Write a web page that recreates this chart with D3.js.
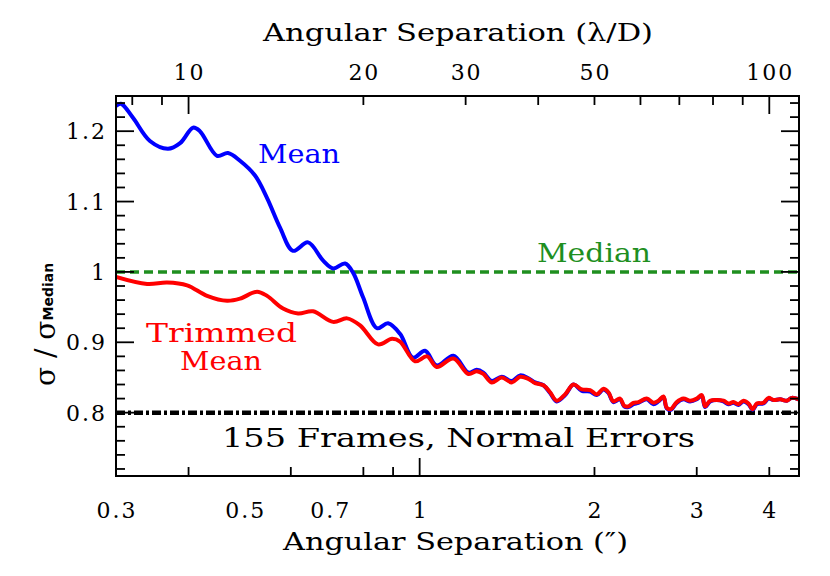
<!DOCTYPE html>
<html><head><meta charset="utf-8">
<script src="https://cdn.jsdelivr.net/npm/d3@7"></script>
<style>body{margin:0;background:#fff}svg{display:block}</style>
</head><body>
<svg id="c" width="830" height="576"></svg>
<script>
// ---- data ----
const meanSep = [0.300,0.306,0.3209,0.3432,0.3687,0.3868,0.4072,0.4184,0.4478,0.4677,0.4905,0.5206,0.5461,0.5749,0.6053,0.6424,0.6821,0.7094,0.7439,0.7679,0.7990,0.8445,0.8823,0.9252,0.9741,1.0216,1.0700,1.1432,1.2133,1.2541,1.2873,1.3306,1.3846,1.4406,1.4891,1.5391,1.5804,1.6335,1.6773,1.7219,1.7802,1.8400,1.9018,1.9657,2.0183,2.0723,2.1135,2.1559,2.2137,2.2491,2.2880,2.3338,2.3806,2.4606,2.5265,2.5772,2.6288,2.6638,2.7064,2.7715,2.8457,2.9220,3.0003,3.0604,3.1011,3.1634,3.2482,3.3352,3.4020,3.4702,3.5397,3.6106,3.6830,3.7468,3.8068,3.9087,3.9870,4.0669,4.1759,4.2877,4.3736,4.4909];
const meanVal = [1.236,1.239,1.219,1.186,1.175,1.183,1.205,1.200,1.165,1.169,1.158,1.137,1.105,1.063,1.030,1.042,1.016,1.005,1.012,0.999,0.964,0.920,0.927,0.912,0.878,0.888,0.867,0.881,0.857,0.861,0.857,0.845,0.851,0.845,0.853,0.849,0.843,0.839,0.828,0.816,0.825,0.840,0.831,0.830,0.825,0.833,0.828,0.815,0.819,0.809,0.808,0.812,0.814,0.819,0.812,0.816,0.822,0.806,0.804,0.814,0.819,0.816,0.819,0.824,0.808,0.816,0.818,0.816,0.812,0.814,0.811,0.816,0.812,0.804,0.812,0.813,0.820,0.818,0.819,0.817,0.821,0.819];
const trimSep = [0.300,0.3394,0.3674,0.3977,0.4305,0.4660,0.4905,0.5248,0.5461,0.5818,0.6176,0.6553,0.7094,0.7499,0.7897,0.8480,0.8963,0.9253,0.9819,1.0300,1.0700,1.1432,1.2133,1.2541,1.2873,1.3306,1.3846,1.4406,1.4891,1.5391,1.5804,1.6335,1.6773,1.7219,1.7802,1.8400,1.9018,1.9657,2.0183,2.0723,2.1135,2.1559,2.2137,2.2491,2.2880,2.3338,2.3806,2.4606,2.5265,2.5772,2.6288,2.6638,2.7064,2.7715,2.8457,2.9220,3.0003,3.0604,3.1011,3.1634,3.2482,3.3352,3.4020,3.4702,3.5397,3.6106,3.6830,3.7468,3.8068,3.9087,3.9870,4.0669,4.1759,4.2877,4.3736,4.4909];
const trimVal = [0.993,0.983,0.985,0.981,0.966,0.959,0.962,0.972,0.966,0.948,0.941,0.944,0.929,0.934,0.924,0.897,0.905,0.901,0.873,0.880,0.865,0.877,0.855,0.859,0.855,0.843,0.850,0.843,0.851,0.848,0.842,0.839,0.829,0.817,0.826,0.840,0.833,0.832,0.826,0.834,0.829,0.816,0.820,0.810,0.809,0.814,0.815,0.820,0.814,0.817,0.823,0.807,0.805,0.815,0.820,0.817,0.820,0.825,0.809,0.817,0.818,0.817,0.813,0.815,0.812,0.817,0.813,0.805,0.813,0.814,0.821,0.818,0.819,0.817,0.821,0.819];
const medianLevel = 1.0;
const normalLevel = 0.8;
const xTickLabels = [0.3,0.5,0.7,1,2,3,4];
const xMinorTicks = [0.4,0.6,0.8,0.9,2,3,4];
const xMajorTicks = [1];
const topTickLabels = [10,20,30,50,100];
const topMinorTicks = [8,9,20,30,40,50,60,70,80,90];
const topMajorTicks = [10,100];
const lambdaPerArcsec = 25;
const yTickLabels = [0.8,0.9,1.0,1.1,1.2];
const labels = {top:"Angular Separation (λ/D)", bottom:"Angular Separation (″)", note:"155 Frames, Normal Errors"};

// ---- layout ----
const L=116, R=799, T=96, B=476;
const svg = d3.select("#c");
const x = d3.scaleLog().domain([0.3,4.5]).range([L,R]);
const xt = d3.scaleLog().domain([0.3*lambdaPerArcsec,4.5*lambdaPerArcsec]).range([L,R]);
const y = d3.scaleLinear().domain([0.71,1.25]).range([B,T]);
const FONT = "'DejaVu Serif', serif";

// reference lines
svg.append("line").attr("x1",L).attr("x2",R).attr("y1",y(medianLevel)).attr("y2",y(medianLevel))
  .attr("stroke","#1f8f1f").attr("stroke-width",3.5).attr("stroke-dasharray","9,5");
svg.append("line").attr("x1",L).attr("x2",R).attr("y1",y(normalLevel)).attr("y2",y(normalLevel))
  .attr("stroke","#000").attr("stroke-width",4.5).attr("stroke-dasharray","9,3,3,3");

const line = d3.line().x(d=>x(d[0])).y(d=>y(d[1])).curve(d3.curveCatmullRom.alpha(0.5));
svg.append("clipPath").attr("id","pc").append("rect").attr("x",L).attr("y",T).attr("width",R-L).attr("height",B-T);
svg.append("path").datum(meanSep.map((s,i)=>[s,meanVal[i]])).attr("d",line)
  .attr("fill","none").attr("stroke","#0000ff").attr("stroke-width",4).attr("stroke-linejoin","round").attr("clip-path","url(#pc)");
svg.append("path").datum(trimSep.map((s,i)=>[s,trimVal[i]])).attr("d",line)
  .attr("fill","none").attr("stroke","#ff0000").attr("stroke-width",4).attr("stroke-linejoin","round").attr("clip-path","url(#pc)");

// frame
svg.append("rect").attr("x",L).attr("y",T).attr("width",R-L).attr("height",B-T)
  .attr("fill","none").attr("stroke","#000").attr("stroke-width",2);

const tk = svg.append("g").attr("stroke","#000").attr("stroke-width",1.8);
const MAJ=18, MIN=9;
xMinorTicks.forEach(v=>tk.append("line").attr("x1",x(v)).attr("x2",x(v)).attr("y1",B).attr("y2",B-MIN));
xMajorTicks.forEach(v=>tk.append("line").attr("x1",x(v)).attr("x2",x(v)).attr("y1",B).attr("y2",B-MAJ));
topMinorTicks.forEach(v=>tk.append("line").attr("x1",xt(v)).attr("x2",xt(v)).attr("y1",T).attr("y2",T+MIN));
topMajorTicks.forEach(v=>tk.append("line").attr("x1",xt(v)).attr("x2",xt(v)).attr("y1",T).attr("y2",T+MAJ));
d3.range(0.72,1.25,0.02).forEach(v=>{
  const major = Math.abs(Math.round(v*10)-v*10)<1e-6;
  const len = major?MAJ:MIN;
  tk.append("line").attr("x1",L).attr("x2",L+len).attr("y1",y(v)).attr("y2",y(v));
  tk.append("line").attr("x1",R).attr("x2",R-len).attr("y1",y(v)).attr("y2",y(v));
});

// tick labels
const fmtY = d=> d===1?"1":d3.format(".1f")(d);
const TS = 22, LS = 2;
svg.selectAll(".xl").data(xTickLabels).join("text").attr("x",d=>x(d)+LS/2).attr("y",518)
  .attr("text-anchor","middle").attr("font-family",FONT).attr("font-size",TS).attr("letter-spacing",LS).text(d=>String(d));
svg.selectAll(".tl").data(topTickLabels).join("text").attr("x",d=>xt(d)+LS/2).attr("y",80)
  .attr("text-anchor","middle").attr("font-family",FONT).attr("font-size",TS).attr("letter-spacing",LS).text(d=>String(d));
svg.selectAll(".yl").data(yTickLabels).join("text").attr("x",107).attr("y",d=>y(d)+8)
  .attr("text-anchor","end").attr("font-family",FONT).attr("font-size",TS).attr("letter-spacing",LS).text(fmtY);

// titles
svg.append("text").attr("x",263).attr("y",41).attr("font-family",FONT).attr("font-size",25)
  .attr("textLength",390).attr("lengthAdjust","spacingAndGlyphs").text(labels.top);
svg.append("text").attr("x",283).attr("y",550).attr("font-family",FONT).attr("font-size",25)
  .attr("textLength",345).attr("lengthAdjust","spacingAndGlyphs").text(labels.bottom);

// y label
const yl = svg.append("text").attr("transform","translate(55,386) rotate(-90)").attr("font-family",FONT).attr("font-size",28);
yl.append("tspan").text("σ / σ");
yl.append("tspan").attr("font-family","'DejaVu Sans', sans-serif").attr("font-weight","bold").attr("font-size",14).attr("dy",-2).text("Median");

// annotations
function ann(t,x0,w,yb,col){svg.append("text").attr("x",x0).attr("y",yb).attr("font-family",FONT).attr("font-size",26)
  .attr("fill",col).attr("textLength",w).attr("lengthAdjust","spacingAndGlyphs").text(t);}
ann("Mean",258,82,163,"#0000ff");
ann("Median",537,114,262,"#1f8f1f");
ann("Trimmed",146,151,342,"#ff0000");
ann("Mean",180,82,370,"#ff0000");
ann(labels.note,222,473,447,"#000");
</script>
</body></html>
